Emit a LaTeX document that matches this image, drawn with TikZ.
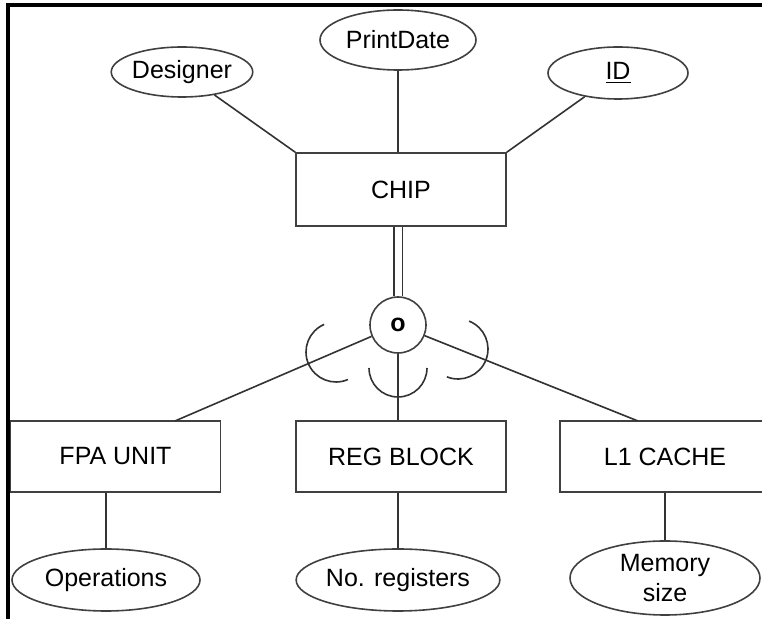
\documentclass[tikz,border=0pt]{standalone}
\usepackage{fontspec}
\setmainfont{Liberation Sans}
\usetikzlibrary{shapes.geometric}

\begin{document}
\begin{tikzpicture}[x=0.5pt, y=-0.5pt,
    every node/.style ={font=\fontsize{12.5}{15}\selectfont},
    entity/.style ={rectangle, draw=black!75, line width=0.8pt, inner sep=0pt, minimum width=105pt, minimum height=35.5pt},
    attribute/.style ={ellipse, draw=black!75, line width=0.8pt, inner sep=0pt, align=center},
    disjoint/.style ={circle, draw=black!75, line width=0.8pt, inner sep=0pt, minimum size=28pt, font=\fontsize{12.5}{15}\selectfont\bfseries},
    attrline/.style ={draw=black!80, line width=0.8pt}]
   \useasboundingbox (0,0) rectangle (762,619);
   \clip (0,0) rectangle (762,619);

   % frame
   \draw[line width=2pt] (764,5.5) -- (8,5.5) -- (8,625);

   \node[attribute, minimum width=68pt, minimum height=25pt] (des)  at (182,72)  {Designer};
   \node[attribute, minimum width=78pt, minimum height=30pt] (prt)  at (398,40)  {PrintDate};
   \node[attribute, minimum width=70pt, minimum height=26pt] (id)   at (618,73)  {\underline{ID}};
   \node[entity, minimum height=36.5pt] (chip) at (401,189.5) {CHIP};
   \node[disjoint] (disj) at (398,325) {o};
   \node[entity] (fpa) at (115.5,456.5) {FPA UNIT};
   \node[entity] (reg) at (401,456.5)   {REG BLOCK};
   \node[entity] (l1)  at (665,456.5)   {L1 CACHE};
   \node[attribute, minimum width=94pt, minimum height=31pt] (ops)  at (106,580) {Operations};
   \node[attribute, minimum width=97pt, minimum height=31pt] (nreg) at (398,580) {No. registers};
   \node[attribute, minimum width=95pt, minimum height=37pt] (mem)  at (665,578) {Memory\\size};

   \coordinate (fpatop) at (175,421);
   \coordinate (l1top)  at (638,421);
   \coordinate (fpacup) at (336,352);
   \coordinate (regcup) at (398,368);
   \coordinate (l1cup)  at (458,349);

   \draw[attrline] (des) to (chip.north west);
   \draw[attrline] (prt) to (prt |- chip.north);
   \draw[attrline] (id) to (chip.north east);

   \draw[attrline, double, double distance=3.5pt] (disj |- chip.south) to (disj);

   \draw[attrline] (disj) to (fpatop);
   \draw[attrline] (disj) to (disj |- reg.north);
   \draw[attrline] (disj) to (l1top);

   % subset marks
   \draw[attrline] (fpacup) ++(66.7:30) arc[start angle=66.7, end angle=246.7, radius=30];
   \draw[attrline] (regcup) ++(0:29) arc[start angle=0, end angle=180, radius=29];
   \draw[attrline] (l1cup) ++(-68.2:30) arc[start angle=-68.2, end angle=111.8, radius=30];

   \draw[attrline] (fpa.south -| ops) to (ops);
   \draw[attrline] (reg.south -| nreg) to (nreg);
   \draw[attrline] (l1.south -| mem) to (mem);
\end{tikzpicture}
\end{document}
